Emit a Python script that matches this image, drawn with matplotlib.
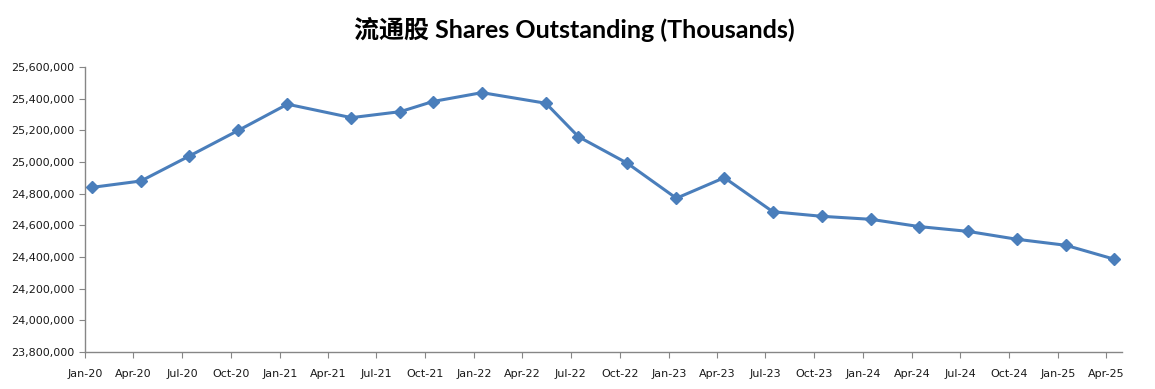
import matplotlib

matplotlib.use('Agg')
import matplotlib.dates as mdates
import matplotlib.pyplot as plt
import pandas as pd
from matplotlib.ticker import FuncFormatter

# quarterly-ish observations (thousands of shares)
dates = ['2020-01-15', '2020-04-15', '2020-07-15', '2020-10-15',
         '2021-01-15', '2021-05-15', '2021-08-15', '2021-10-15',
         '2022-01-15', '2022-05-15', '2022-07-15', '2022-10-15',
         '2023-01-15', '2023-04-15', '2023-07-15', '2023-10-15',
         '2024-01-15', '2024-04-15', '2024-07-15', '2024-10-15',
         '2025-01-15', '2025-04-15']
shares = [24840000, 24880000, 25038000, 25200000,
          25365000, 25280000, 25318000, 25382000,
          25438000, 25371000, 25160000, 24992000,
          24771000, 24901000, 24686000, 24657000,
          24638000, 24592000, 24562000, 24512000,
          24474000, 24387000]
tick_dates = pd.date_range('2020-01-01', '2025-04-01', freq='QS')

x = pd.to_datetime(dates)

fig = plt.figure(figsize=(11.55, 3.89), dpi=100)
ax = fig.add_axes([0.0736, 0.0951, 0.8981, 0.7327])

ax.plot(x, shares, color='#4A7EBB', linewidth=2.2, marker='D', markersize=6,
        markerfacecolor='#4A7EBB', markeredgecolor='#4A7EBB')

ax.set_xlim(pd.Timestamp('2020-01-01'), pd.Timestamp('2025-05-01'))
ax.set_ylim(23800000, 25600000)
ax.set_yticks(range(23800000, 25600001, 200000))
ax.yaxis.set_major_formatter(FuncFormatter(lambda v, p: f'{int(v):,}'))
ax.set_xticks(tick_dates)
ax.xaxis.set_major_formatter(mdates.DateFormatter('%b-%y'))

for s in ['top', 'right']:
    ax.spines[s].set_visible(False)
for s in ['left', 'bottom']:
    ax.spines[s].set_color('#868686')
    ax.spines[s].set_linewidth(1.0)
ax.tick_params(axis='both', direction='out', length=4, color='#868686',
               labelsize=8, labelcolor='#1a1a1a')
ax.tick_params(axis='x', pad=8)

fig.text(0.497, 0.925, '流通股 Shares Outstanding (Thousands)', ha='center', va='center',
         fontsize=18, fontweight='bold', family=['Lato', 'Noto Sans CJK SC'])

plt.savefig('out.png', dpi=100)
